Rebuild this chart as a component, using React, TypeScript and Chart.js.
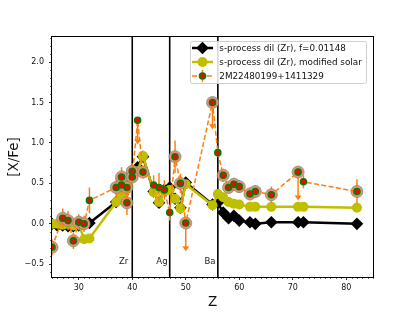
import React, { useEffect, useRef } from 'react';
import { Chart, registerables } from 'chart.js';

Chart.register(...registerables);

const modelZ = [25, 26, 27, 28, 29, 30, 31, 32, 37, 38, 39, 40, 41, 42, 44, 45, 46, 47, 48, 49, 50, 55, 56, 57, 58, 59, 60, 62, 63, 66, 71, 72, 82];
const dilZrF = [0.0, -0.02, -0.02, -0.03, -0.03, -0.02, 0.0, 0.01, 0.27, 0.38, 0.46, 0.62, 0.7, 0.83, 0.4, 0.26, 0.42, 0.45, 0.31, 0.2, 0.51, 0.24, 0.26, 0.14, 0.07, 0.1, 0.04, 0.02, 0.0, 0.02, 0.02, 0.02, 0.0];
const dilZrModSolar = [0.0, 0.0, -0.01, 0.0, -0.02, 0.0, -0.19, -0.18, 0.27, 0.35, 0.44, 0.58, 0.65, 0.84, 0.39, 0.27, 0.4, 0.42, 0.31, 0.19, 0.49, 0.23, 0.37, 0.33, 0.27, 0.25, 0.24, 0.21, 0.21, 0.21, 0.21, 0.21, 0.2];

const starZ = [25, 27, 28, 29, 30, 31, 32, 37, 38, 38, 39, 39, 40, 40, 41, 42, 44, 45, 46, 47, 48, 49, 50, 55, 56, 57, 58, 59, 60, 62, 63, 66, 71, 72, 82];
const starXFe = [-0.29, 0.07, 0.04, -0.21, 0.02, 0.0, 0.29, 0.45, 0.58, 0.48, 0.45, 0.26, 0.65, 0.58, 1.28, 0.64, 0.48, 0.45, 0.42, 0.14, 0.83, 0.5, 0.01, 1.5, 0.88, 0.6, 0.45, 0.49, 0.46, 0.37, 0.4, 0.36, 0.64, 0.52, 0.4];
const starErr = [0.1, 0.12, 0.12, 0.1, 0.1, 0.1, 0.16, 0.12, 0.12, 0.12, 0.1, 0.15, 0.1, 0.1, 0.3, 0.08, 0.12, 0.18, 0.12, 0.1, 0.2, 0.12, 0.35, 0.33, 0.05, 0.08, 0.08, 0.08, 0.08, 0.08, 0.08, 0.1, 0.35, 0.08, 0.15];
const starUpperLimit = [0, 0, 0, 0, 0, 0, 0, 0, 0, 0, 0, 0, 0, 0, 1, 0, 0, 0, 0, 0, 0, 0, 1, 1, 0, 0, 0, 0, 0, 0, 0, 0, 1, 0, 0];
const starHighlighted = [1, 1, 1, 1, 1, 1, 0, 1, 1, 1, 1, 1, 1, 1, 0, 1, 0, 0, 0, 0, 1, 1, 1, 1, 0, 1, 1, 1, 1, 1, 1, 1, 1, 0, 1];

const xTicks = [30, 40, 50, 60, 70, 80];
const yTicks = [-0.5, 0.0, 0.5, 1.0, 1.5, 2.0];
const markerZ = [40, 47, 56];
const markerLabels = ['Zr', 'Ag', 'Ba'];
const legendLabels = ['s-process dil (Zr), f=0.01148', 's-process dil (Zr), modified solar', '2M22480199+1411329'];

const FONT = 'DejaVu Sans';
const ORANGE = '#ff7f0e';
const YELLOW = '#bfbf00';
const HALO_FILL = '#f4887e';
const HALO_EDGE = 'rgba(110,150,110,0.75)';

function drawStarMarker(ctx: CanvasRenderingContext2D, x: number, y: number) {
  ctx.beginPath();
  ctx.arc(x, y, 3, 0, Math.PI * 2);
  ctx.fillStyle = 'red';
  ctx.fill();
  ctx.lineWidth = 1.6;
  ctx.strokeStyle = '#008000';
  ctx.stroke();
}

const customPlugin = {
  id: 'customDecor',
  beforeDatasetsDraw(chart: any) {
    const { ctx, chartArea, scales } = chart;
    const xs = scales.x;
    const ys = scales.y;
    ctx.save();
    ctx.strokeStyle = '#000';
    ctx.lineWidth = 1.6;
    markerZ.forEach((z, i) => {
      const px = xs.getPixelForValue(z);
      ctx.beginPath();
      ctx.moveTo(px, chartArea.top);
      ctx.lineTo(px, chartArea.bottom);
      ctx.stroke();
      ctx.fillStyle = '#222';
      ctx.font = `8.5px "${FONT}"`;
      ctx.textAlign = 'left';
      ctx.textBaseline = 'alphabetic';
      ctx.fillText(markerLabels[i], xs.getPixelForValue(z - 2.5), ys.getPixelForValue(-0.5));
    });
    ctx.restore();
  },
  afterDatasetDraw(chart: any, args: any) {
    if (args.index !== 1) return;
    const { ctx, chartArea, scales } = chart;
    const xs = scales.x;
    const ys = scales.y;
    ctx.save();
    ctx.beginPath();
    ctx.rect(chartArea.left, chartArea.top, chartArea.right - chartArea.left, chartArea.bottom - chartArea.top);
    ctx.clip();
    ctx.strokeStyle = ORANGE;
    ctx.fillStyle = ORANGE;
    ctx.lineWidth = 1.5;
    starZ.forEach((z, i) => {
      const px = xs.getPixelForValue(z);
      const v = starXFe[i];
      const e = starErr[i];
      if (starUpperLimit[i]) {
        const py = ys.getPixelForValue(v);
        const tip = ys.getPixelForValue(v - e);
        ctx.beginPath();
        ctx.moveTo(px, py);
        ctx.lineTo(px, tip - 2);
        ctx.stroke();
        ctx.beginPath();
        ctx.moveTo(px - 3.5, tip - 5);
        ctx.lineTo(px + 3.5, tip - 5);
        ctx.lineTo(px, tip);
        ctx.closePath();
        ctx.fill();
      } else {
        ctx.beginPath();
        ctx.moveTo(px, ys.getPixelForValue(v + e));
        ctx.lineTo(px, ys.getPixelForValue(v - e));
        ctx.stroke();
      }
    });
    ctx.restore();
  },
  afterDraw(chart: any) {
    const { ctx, chartArea, scales } = chart;
    const xs = scales.x;
    const ys = scales.y;
    const { left, right, top, bottom } = chartArea;
    ctx.save();
    // minor ticks
    ctx.strokeStyle = '#000';
    ctx.lineWidth = 0.6;
    for (let z = 25; z <= 85; z++) {
      if (z % 10 === 0) continue;
      const px = Math.round(xs.getPixelForValue(z)) + 0.5;
      ctx.beginPath();
      ctx.moveTo(px, bottom);
      ctx.lineTo(px, bottom + 2);
      ctx.stroke();
    }
    for (let k = -6; k <= 23; k++) {
      if (k % 5 === 0) continue;
      const py = Math.round(ys.getPixelForValue(k / 10)) + 0.5;
      ctx.beginPath();
      ctx.moveTo(left, py);
      ctx.lineTo(left - 2, py);
      ctx.stroke();
    }
    // spines
    ctx.lineWidth = 1;
    ctx.strokeStyle = '#000';
    ctx.strokeRect(left - 0.5, top - 0.5, right - left + 1, bottom - top + 1);

    // axis titles
    ctx.fillStyle = '#111';
    ctx.font = `13.5px "${FONT}"`;
    ctx.textAlign = 'center';
    ctx.textBaseline = 'alphabetic';
    ctx.fillText('Z', (left + right) / 2, 306);
    ctx.save();
    ctx.translate(17.5, (top + bottom) / 2);
    ctx.rotate(-Math.PI / 2);
    ctx.fillText('[X/Fe]', 0, 0);
    ctx.restore();

    // legend
    const bx = 190.5, by = 41.5, bw = 176, bh = 42;
    ctx.beginPath();
    if ((ctx as any).roundRect) (ctx as any).roundRect(bx, by, bw, bh, 2);
    else ctx.rect(bx, by, bw, bh);
    ctx.fillStyle = 'rgba(255,255,255,0.85)';
    ctx.fill();
    ctx.strokeStyle = '#d0d0d0';
    ctx.lineWidth = 1;
    ctx.stroke();

    const rows = [48, 62, 76];
    const lx0 = 192, lx1 = 213, mx = 202.5, tx = 219.3;
    // row 1
    ctx.strokeStyle = '#000';
    ctx.lineWidth = 2.5;
    ctx.beginPath();
    ctx.moveTo(lx0, rows[0]);
    ctx.lineTo(lx1, rows[0]);
    ctx.stroke();
    ctx.fillStyle = '#000';
    ctx.beginPath();
    ctx.moveTo(mx - 6.3, rows[0]);
    ctx.lineTo(mx, rows[0] - 6.3);
    ctx.lineTo(mx + 6.3, rows[0]);
    ctx.lineTo(mx, rows[0] + 6.3);
    ctx.closePath();
    ctx.fill();
    // row 2
    ctx.strokeStyle = YELLOW;
    ctx.beginPath();
    ctx.moveTo(lx0, rows[1]);
    ctx.lineTo(lx1, rows[1]);
    ctx.stroke();
    ctx.fillStyle = YELLOW;
    ctx.beginPath();
    ctx.arc(mx, rows[1], 5, 0, Math.PI * 2);
    ctx.fill();
    // row 3
    ctx.strokeStyle = ORANGE;
    ctx.lineWidth = 1.5;
    ctx.setLineDash([5, 2.4]);
    ctx.beginPath();
    ctx.moveTo(lx0, rows[2]);
    ctx.lineTo(lx1, rows[2]);
    ctx.stroke();
    ctx.setLineDash([]);
    ctx.beginPath();
    ctx.moveTo(mx, rows[2] - 6);
    ctx.lineTo(mx, rows[2] + 6);
    ctx.stroke();
    drawStarMarker(ctx, mx, rows[2]);

    ctx.fillStyle = '#111';
    ctx.font = `8.8px "${FONT}"`;
    ctx.textAlign = 'left';
    ctx.textBaseline = 'middle';
    legendLabels.forEach((t, i) => ctx.fillText(t, tx, rows[i] + 0.5));
    ctx.restore();
  },
};

export default function App() {
  const ref = useRef<HTMLCanvasElement | null>(null);
  useEffect(() => {
    if (!ref.current) return;
    const tickFont = { family: FONT, size: 8 };
    const chart = new Chart(ref.current, {
      type: 'scatter',
      data: {
        datasets: [
          {
            label: legendLabels[0],
            data: modelZ.map((z, i) => ({ x: z, y: dilZrF[i] })),
            showLine: true,
            borderColor: '#000',
            borderWidth: 2.5,
            pointStyle: 'rectRot',
            pointRadius: 6.3,
            pointBackgroundColor: '#000',
            pointBorderColor: '#000',
            pointBorderWidth: 0,
            order: 6,
            clip: 0,
          },
          {
            label: legendLabels[1],
            data: modelZ.map((z, i) => ({ x: z, y: dilZrModSolar[i] })),
            showLine: true,
            borderColor: YELLOW,
            borderWidth: 2.5,
            pointStyle: 'circle',
            pointRadius: 5,
            pointBackgroundColor: YELLOW,
            pointBorderColor: YELLOW,
            pointBorderWidth: 0,
            order: 5,
            clip: 0,
          },
          {
            label: 'halo',
            data: starZ.map((z, i) => ({ x: z, y: starXFe[i] })).filter((_, i) => starHighlighted[i]),
            showLine: false,
            pointStyle: 'circle',
            pointRadius: 6,
            pointBackgroundColor: HALO_FILL,
            pointBorderColor: HALO_EDGE,
            pointBorderWidth: 1,
            order: 3,
            clip: 0,
          },
          {
            label: legendLabels[2],
            data: starZ.map((z, i) => ({ x: z, y: starXFe[i] })),
            showLine: true,
            borderColor: ORANGE,
            borderWidth: 1.5,
            borderDash: [5, 2.4],
            pointStyle: 'circle',
            pointRadius: 3,
            pointBackgroundColor: 'red',
            pointBorderColor: '#008000',
            pointBorderWidth: 1.6,
            order: 1,
            clip: 0,
          },
        ] as any,
      },
      options: {
        animation: false,
        responsive: false,
        events: [],
        layout: { padding: { left: 0, right: 42, top: 37, bottom: 0 } },
        plugins: { legend: { display: false }, tooltip: { enabled: false }, title: { display: false } },
        scales: {
          x: {
            type: 'linear',
            min: 25,
            max: 85,
            afterBuildTicks: (s: any) => { s.ticks = xTicks.map((v) => ({ value: v })); },
            afterFit: (s: any) => { s.height = 34; },
            ticks: { font: tickFont, color: '#111', padding: 3, maxRotation: 0, autoSkip: false, callback: (v: any) => String(v) },
            grid: { drawOnChartArea: false, drawTicks: true, tickLength: 3, color: '#000', lineWidth: 0.8 },
            border: { display: false },
          },
          y: {
            type: 'linear',
            min: -0.657,
            max: 2.31,
            afterBuildTicks: (s: any) => { s.ticks = yTicks.map((v) => ({ value: v })); },
            afterFit: (s: any) => { s.width = 52; },
            ticks: {
              font: tickFont,
              color: '#111',
              padding: 5,
              autoSkip: false,
              callback: (v: any) => (v < 0 ? '\u2212' : '') + Math.abs(Number(v)).toFixed(1),
            },
            grid: { drawOnChartArea: false, drawTicks: true, tickLength: 3, color: '#000', lineWidth: 0.8 },
            border: { display: false },
          },
        },
      } as any,
      plugins: [customPlugin],
    });
    return () => chart.destroy();
  }, []);
  return (
    <div style={{ position: 'fixed', left: 0, top: 0, width: 415, height: 311, background: '#fff' }}>
      <canvas ref={ref} width={415} height={311} />
    </div>
  );
}
